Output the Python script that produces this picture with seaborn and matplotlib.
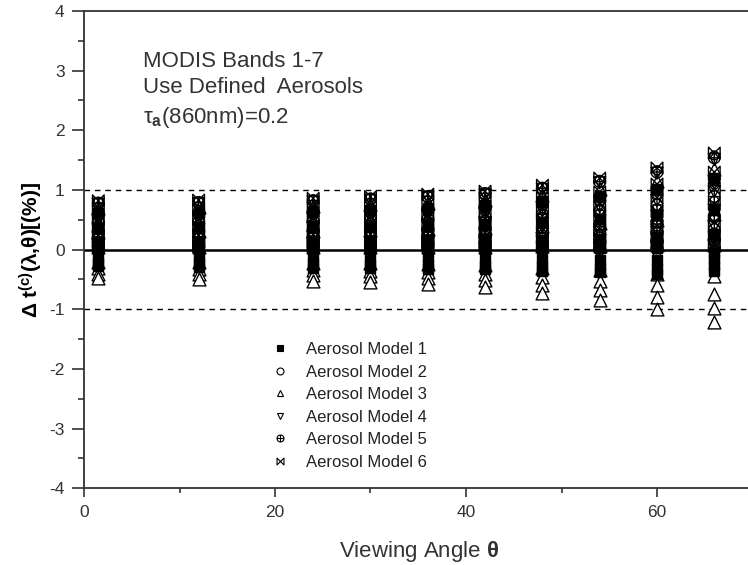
import matplotlib
matplotlib.use("Agg")
import numpy as np
import pandas as pd
import matplotlib.pyplot as plt
from matplotlib.path import Path
from matplotlib.lines import Line2D
from matplotlib.ticker import MultipleLocator
import seaborn as sns

# ---------------- data ----------------
angles = [1.5, 12, 24, 30, 36, 42, 48, 54, 60, 66]
bands = [1, 2, 3, 4, 5, 6, 7]

model1 = [
    [0.62, 0.35, 0.12, 0.02, -0.10, -0.22, -0.28],
    [0.63, 0.36, 0.13, 0.02, -0.11, -0.23, -0.29],
    [0.65, 0.37, 0.13, 0.02, -0.12, -0.24, -0.30],
    [0.67, 0.38, 0.14, 0.02, -0.12, -0.25, -0.31],
    [0.70, 0.40, 0.14, 0.02, -0.13, -0.26, -0.32],
    [0.74, 0.42, 0.15, 0.02, -0.14, -0.27, -0.33],
    [0.81, 0.46, 0.16, 0.02, -0.16, -0.29, -0.36],
    [0.90, 0.51, 0.18, 0.02, -0.17, -0.31, -0.38],
    [1.02, 0.58, 0.20, 0.02, -0.18, -0.33, -0.40],
    [1.20, 0.68, 0.24, -0.05, -0.15, -0.25, -0.35],
]
model2 = [
    [0.80, 0.55, 0.41, 0.26, 0.15, 0.07, 0.01],
    [0.81, 0.56, 0.42, 0.27, 0.15, 0.07, 0.01],
    [0.84, 0.58, 0.43, 0.28, 0.16, 0.07, 0.01],
    [0.87, 0.60, 0.45, 0.29, 0.16, 0.08, 0.01],
    [0.91, 0.63, 0.47, 0.30, 0.17, 0.08, 0.01],
    [0.96, 0.66, 0.50, 0.32, 0.18, 0.08, 0.01],
    [1.05, 0.73, 0.55, 0.35, 0.20, 0.09, 0.01],
    [1.17, 0.81, 0.61, 0.39, 0.22, 0.10, 0.01],
    [1.33, 0.92, 0.69, 0.44, 0.25, 0.11, 0.01],
    [1.58, 1.09, 0.82, 0.52, 0.29, 0.13, 0.01],
]
model3 = [
    [0.70, 0.30, 0.05, -0.20, -0.31, -0.40, -0.48],
    [0.71, 0.31, 0.05, -0.21, -0.32, -0.41, -0.50],
    [0.73, 0.32, 0.05, -0.22, -0.34, -0.43, -0.53],
    [0.76, 0.33, 0.05, -0.23, -0.35, -0.45, -0.55],
    [0.79, 0.34, 0.05, -0.24, -0.37, -0.47, -0.58],
    [0.83, 0.36, 0.05, -0.26, -0.40, -0.51, -0.63],
    [0.91, 0.40, 0.06, -0.30, -0.46, -0.60, -0.73],
    [1.01, 0.44, 0.06, -0.34, -0.52, -0.68, -0.84],
    [1.15, 0.50, 0.07, -0.40, -0.60, -0.80, -0.99],
    [1.36, 0.59, 0.08, -0.45, -0.75, -0.98, -1.22],
]
model4 = [
    [0.76, 0.49, 0.33, 0.20, 0.10, 0.03, -0.04],
    [0.77, 0.50, 0.34, 0.20, 0.10, 0.03, -0.04],
    [0.80, 0.52, 0.35, 0.21, 0.11, 0.03, -0.05],
    [0.83, 0.54, 0.36, 0.22, 0.11, 0.03, -0.05],
    [0.87, 0.56, 0.38, 0.23, 0.12, 0.03, -0.05],
    [0.92, 0.59, 0.40, 0.24, 0.12, 0.03, -0.06],
    [1.01, 0.65, 0.44, 0.26, 0.13, 0.04, -0.07],
    [1.12, 0.72, 0.49, 0.29, 0.15, 0.04, -0.08],
    [1.28, 0.82, 0.56, 0.33, 0.17, 0.05, -0.09],
    [1.51, 0.97, 0.66, 0.39, 0.20, 0.06, -0.10],
]
model5 = [
    [0.78, 0.60, 0.45, 0.29, 0.18, 0.08, 0.02],
    [0.79, 0.61, 0.46, 0.30, 0.18, 0.08, 0.02],
    [0.82, 0.63, 0.47, 0.31, 0.19, 0.09, 0.02],
    [0.85, 0.65, 0.49, 0.32, 0.20, 0.09, 0.02],
    [0.89, 0.68, 0.51, 0.33, 0.20, 0.09, 0.02],
    [0.94, 0.72, 0.54, 0.35, 0.21, 0.10, 0.02],
    [1.03, 0.79, 0.59, 0.38, 0.23, 0.11, 0.02],
    [1.14, 0.88, 0.66, 0.42, 0.25, 0.12, 0.02],
    [1.30, 1.00, 0.75, 0.48, 0.29, 0.13, 0.03],
    [1.54, 1.18, 0.89, 0.57, 0.34, 0.16, 0.03],
]
model6 = [
    [0.82, 0.66, 0.52, 0.38, 0.24, 0.13, 0.05],
    [0.83, 0.67, 0.53, 0.39, 0.24, 0.13, 0.05],
    [0.86, 0.70, 0.55, 0.40, 0.25, 0.14, 0.05],
    [0.89, 0.72, 0.57, 0.42, 0.26, 0.14, 0.05],
    [0.93, 0.75, 0.59, 0.44, 0.27, 0.15, 0.06],
    [0.98, 0.79, 0.62, 0.46, 0.28, 0.16, 0.06],
    [1.08, 0.87, 0.68, 0.50, 0.31, 0.17, 0.06],
    [1.20, 0.97, 0.76, 0.56, 0.34, 0.19, 0.07],
    [1.37, 1.10, 0.87, 0.64, 0.39, 0.21, 0.08],
    [1.62, 1.30, 1.03, 0.76, 0.46, 0.25, 0.09],
]

model_names = ["Aerosol Model 1", "Aerosol Model 2", "Aerosol Model 3",
               "Aerosol Model 4", "Aerosol Model 5", "Aerosol Model 6"]
model_values = [model1, model2, model3, model4, model5, model6]

x_ticks = [0, 20, 40, 60]
y_ticks = [-4, -3, -2, -1, 0, 1, 2, 3, 4]

rows = []
for name, vals in zip(model_names, model_values):
    for a, row in zip(angles, vals):
        for b, v in zip(bands, row):
            rows.append({"model": name, "angle": a, "band": b, "dt": v})
df = pd.DataFrame(rows)

# ---------------- style ----------------
sns.set_style("ticks")
plt.rcParams["font.family"] = ["Liberation Sans", "DejaVu Sans"]
plt.rcParams["mathtext.fontset"] = "custom"
plt.rcParams["mathtext.rm"] = "Liberation Sans"
plt.rcParams["mathtext.it"] = "Liberation Sans:italic"
plt.rcParams["mathtext.bf"] = "Liberation Sans:bold"

# custom markers
oplus = Path.make_compound_path(
    Path.unit_circle(),
    Path([(-1, 0), (1, 0), (0, -1), (0, 1)],
         [Path.MOVETO, Path.LINETO, Path.MOVETO, Path.LINETO]))
bowtie = Path([(-1, -1), (1, 1), (1, -1), (-1, 1), (-1, -1)],
              [Path.MOVETO, Path.LINETO, Path.LINETO, Path.LINETO, Path.CLOSEPOLY])

marker_spec = {
    "Aerosol Model 1": dict(marker="s", s=45, fc="black"),
    "Aerosol Model 2": dict(marker="o", s=40, fc="none"),
    "Aerosol Model 3": dict(marker="^", s=85, fc="white"),
    "Aerosol Model 4": dict(marker="v", s=75, fc="none"),
    "Aerosol Model 5": dict(marker=oplus, s=70, fc="none"),
    "Aerosol Model 6": dict(marker=bowtie, s=70, fc="none"),
}
draw_order = ["Aerosol Model 3", "Aerosol Model 2", "Aerosol Model 4",
              "Aerosol Model 5", "Aerosol Model 6", "Aerosol Model 1"]

W, H = 748, 565
fig = plt.figure(figsize=(W / 100, H / 100), dpi=100)
ax = fig.add_axes([84 / W, 1 - 488.3 / H, 668.5 / W, 477.3 / H])

for name in draw_order:
    spec = marker_spec[name]
    sns.scatterplot(data=df[df["model"] == name], x="angle", y="dt", ax=ax,
                    marker=spec["marker"], s=spec["s"], color="black",
                    facecolor=spec["fc"], edgecolor="black", linewidth=1.0,
                    legend=False, zorder=3, clip_on=False)

ax.axhline(0, color="black", lw=1.8, zorder=2)
ax.axhline(1, color="black", lw=1.0, ls=(0, (4, 3.5)), zorder=2)
ax.axhline(-1, color="black", lw=1.0, ls=(0, (4, 3.5)), zorder=2)

ax.set_xlim(0, 70)
ax.set_ylim(-4, 4)
ax.set_xticks(x_ticks)
ax.set_yticks(y_ticks)
ax.set_xticklabels([str(t) for t in x_ticks])
ax.set_yticklabels([str(t) for t in y_ticks])
ax.xaxis.set_minor_locator(MultipleLocator(10))
ax.yaxis.set_minor_locator(MultipleLocator(0.5))

for sp in ["left", "bottom", "top"]:
    ax.spines[sp].set_visible(True)
    ax.spines[sp].set_linewidth(1.3)
    ax.spines[sp].set_color("#333333")
ax.spines["right"].set_visible(False)

ax.tick_params(axis="both", which="both", direction="out", colors="#333333",
               width=1.2, top=False, right=False)
ax.tick_params(axis="y", which="major", length=8.5, pad=5.5, labelsize=12.5)
ax.tick_params(axis="y", which="minor", length=4.3)
ax.tick_params(axis="x", which="major", length=6.5, pad=5.5, labelsize=12.5)
ax.tick_params(axis="x", which="minor", length=3.5)

ax.set_xlabel("Viewing Angle $\\mathbf{θ}$", fontsize=16, color="#333333")
ax.xaxis.set_label_coords(0.501, -0.106)
ax.set_ylabel("Δ t$^{\\mathbf{(c)}}$(λ,θ)[(%)]", fontsize=15, fontweight="bold",
              color="black")
ax.yaxis.set_label_coords(-0.058, 0.5)

ax.text(6.2, 3.16, "MODIS Bands 1-7", fontsize=16, va="center", color="#333333")
ax.text(6.2, 2.71, "Use Defined  Aerosols", fontsize=16, va="center", color="#333333")
ax.text(6.2, 2.22, "τ$_{\\mathbf{a}}$(860nm)=0.2", fontsize=16, va="center", color="#333333")

handles = []
for name in model_names:
    spec = marker_spec[name]
    fc = "white" if spec["fc"] == "none" else spec["fc"]
    handles.append(Line2D([], [], ls="none", marker=spec["marker"], markersize=5,
                          markerfacecolor=fc, markeredgecolor="black",
                          markeredgewidth=0.8))
leg = ax.legend(handles, model_names, loc="upper left",
                bbox_to_anchor=(257 / W, 1 - 327 / H), bbox_transform=fig.transFigure,
                frameon=False, fontsize=12, handlelength=1.0, handletextpad=1.05,
                labelspacing=0.45, borderpad=0.4)
for t in leg.get_texts():
    t.set_color("#222222")

fig.savefig("out.png", dpi=100)
